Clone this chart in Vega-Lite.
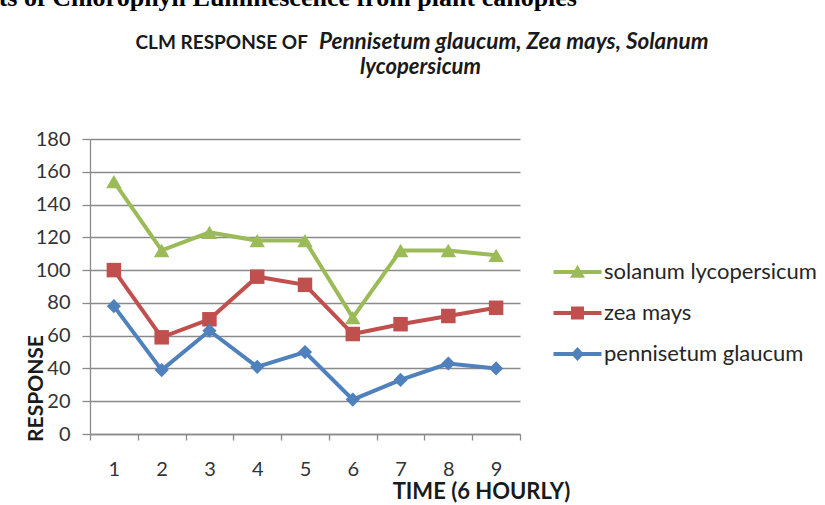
{
  "$schema": "https://vega.github.io/schema/vega-lite/v6.json",
  "width": 430,
  "height": 295,
  "autosize": "none",
  "padding": {"left": 90, "top": 139, "right": 305, "bottom": 71},
  "background": "white",
  "config": {"view": {"stroke": null}, "font": "Lato"},
  "title": {
    "text": "Measurements of Chlorophyll Luminescence from plant canopies",
    "anchor": "end",
    "frame": "group",
    "dx": 57,
    "offset": -1.5,
    "baseline": "alphabetic",
    "font": "Liberation Serif",
    "fontSize": 26,
    "fontWeight": "bold",
    "color": "#000000"
  },
  "data": {
    "values": [
      {"time": 1, "series": "solanum lycopersicum", "value": 154},
      {"time": 2, "series": "solanum lycopersicum", "value": 112},
      {"time": 3, "series": "solanum lycopersicum", "value": 123},
      {"time": 4, "series": "solanum lycopersicum", "value": 118},
      {"time": 5, "series": "solanum lycopersicum", "value": 118},
      {"time": 6, "series": "solanum lycopersicum", "value": 71},
      {"time": 7, "series": "solanum lycopersicum", "value": 112},
      {"time": 8, "series": "solanum lycopersicum", "value": 112},
      {"time": 9, "series": "solanum lycopersicum", "value": 109},
      {"time": 1, "series": "zea mays", "value": 100},
      {"time": 2, "series": "zea mays", "value": 59},
      {"time": 3, "series": "zea mays", "value": 70},
      {"time": 4, "series": "zea mays", "value": 96},
      {"time": 5, "series": "zea mays", "value": 91},
      {"time": 6, "series": "zea mays", "value": 61},
      {"time": 7, "series": "zea mays", "value": 67},
      {"time": 8, "series": "zea mays", "value": 72},
      {"time": 9, "series": "zea mays", "value": 77},
      {"time": 1, "series": "pennisetum glaucum", "value": 78},
      {"time": 2, "series": "pennisetum glaucum", "value": 39},
      {"time": 3, "series": "pennisetum glaucum", "value": 63},
      {"time": 4, "series": "pennisetum glaucum", "value": 41},
      {"time": 5, "series": "pennisetum glaucum", "value": 50},
      {"time": 6, "series": "pennisetum glaucum", "value": 21},
      {"time": 7, "series": "pennisetum glaucum", "value": 33},
      {"time": 8, "series": "pennisetum glaucum", "value": 43},
      {"time": 9, "series": "pennisetum glaucum", "value": 40}
    ]
  },
  "resolve": {"axis": {"x": "independent", "y": "independent"}},
  "layer": [
    {
      "mark": {"type": "line", "strokeWidth": 4},
      "encoding": {
        "x": {
          "field": "time", "type": "ordinal",
          "scale": {"type": "band", "paddingInner": 0, "paddingOuter": 0},
          "axis": {
            "orient": "bottom",
            "title": "TIME (6 HOURLY)",
            "titleFont": "Lato", "titleFontSize": 22, "titleFontWeight": "bold", "titleColor": "#1a1a1a",
            "titleX": 391, "titleY": 64, "titleAlign": "center", "titleBaseline": "alphabetic",
            "labelAngle": 0, "labelFont": "Lato", "labelFontSize": 20, "labelColor": "#333333",
            "labelPadding": 19,
            "tickBand": "extent", "tickSize": 6, "tickColor": "#8a8a8a", "tickWidth": 1.3,
            "domainColor": "#8a8a8a", "domainWidth": 1.3,
            "grid": false
          }
        },
        "y": {
          "field": "value", "type": "quantitative",
          "scale": {"domain": [0, 180], "nice": false, "zero": true},
          "axis": {
            "orient": "left",
            "values": [0, 20, 40, 60, 80, 100, 120, 140, 160, 180],
            "title": "RESPONSE",
            "titleFont": "Lato", "titleFontSize": 21, "titleFontWeight": "bold", "titleColor": "#1a1a1a",
            "titleX": -54, "titleY": 249, "titleAngle": -90, "titleAlign": "center", "titleBaseline": "middle",
            "labelFont": "Lato", "labelFontSize": 20, "labelColor": "#333333", "labelPadding": 12,
            "tickSize": 8, "tickColor": "#8a8a8a", "tickWidth": 1.3,
            "domainColor": "#8a8a8a", "domainWidth": 1.3,
            "grid": true, "gridColor": "#8a8a8a", "gridWidth": 1.3
          }
        },
        "color": {
          "field": "series", "type": "nominal",
          "scale": {
            "domain": ["solanum lycopersicum", "zea mays", "pennisetum glaucum"],
            "range": ["#9BBB59", "#C0504D", "#4F81BD"]
          },
          "legend": {
            "orient": "none",
            "legendX": 270,
            "legendY": -82,
            "title": "lycopersicum",
            "titleFont": "Lato",
            "titleFontSize": 22,
            "titleFontWeight": "bold",
            "titleFontStyle": "italic",
            "titleColor": "#1a1a1a",
            "titleAnchor": "start",
            "titleAlign": "left",
            "titleBaseline": "top",
            "titlePadding": 182,
            "titleLimit": 400,
            "padding": 0,
            "symbolSize": 144,
            "symbolOffset": 206.5,
            "labelOffset": 15.5,
            "labelLimit": 400,
            "labelFont": "Lato",
            "labelFontSize": 22,
            "labelColor": "#262626",
            "rowPadding": 19,
            "encode": {
              "symbols": {
                "update": {
                  "shape": {"signal": "datum.value === 'zea mays' ? 'M-4,-0.33H4V0.33H-4ZM-1.08,-1.08H1.08V1.08H-1.08Z' : datum.value === 'pennisetum glaucum' ? 'M-4,-0.33H4V0.33H-4ZM0,-1.17L1.08,0L0,1.17L-1.08,0Z' : 'M-4,-0.33H4V0.33H-4ZM0,-1.2L1.25,0.95H-1.25Z'"},
                  "fill": {"signal": "scale('color', datum.value)"},
                  "fillOpacity": {"value": 1},
                  "opacity": {"value": 1},
                  "strokeWidth": {"value": 0}
                }
              }
            }
          }
        }
      }
    },
    {
      "transform": [{"filter": "datum.series === 'solanum lycopersicum'"}],
      "mark": {"type": "point", "filled": true, "size": 240, "opacity": 1, "shape": "triangle-up"},
      "encoding": {
        "x": {
          "field": "time", "type": "ordinal",
          "axis": {
            "orient": "top",
            "title": "CLM RESPONSE OF",
            "titleFont": "Lato", "titleFontSize": 19, "titleFontWeight": "bold", "titleColor": "#1a1a1a",
            "titleX": 45, "titleY": -91, "titleAlign": "left", "titleBaseline": "alphabetic",
            "labels": false, "ticks": false, "domain": false, "grid": false
          }
        },
        "y": {
          "field": "value", "type": "quantitative",
          "axis": {
            "orient": "right",
            "title": "Pennisetum glaucum, Zea mays, Solanum",
            "titleFont": "Lato", "titleFontSize": 22.5, "titleFontWeight": "bold", "titleFontStyle": "italic", "titleColor": "#1a1a1a",
            "titleX": 188, "titleY": -91, "titleAngle": 0, "titleAlign": "right", "titleBaseline": "alphabetic",
            "titleLimit": 600,
            "labels": false, "ticks": false, "domain": false, "grid": false
          }
        },
        "color": {"field": "series", "type": "nominal", "legend": null}
      }
    },
    {
      "transform": [{"filter": "datum.series === 'zea mays'"}],
      "mark": {"type": "point", "filled": true, "size": 210, "opacity": 1, "shape": "square"},
      "encoding": {
        "x": {"field": "time", "type": "ordinal", "axis": null},
        "y": {"field": "value", "type": "quantitative", "axis": null},
        "color": {"field": "series", "type": "nominal", "legend": null}
      }
    },
    {
      "transform": [{"filter": "datum.series === 'pennisetum glaucum'"}],
      "mark": {"type": "point", "filled": true, "size": 200, "opacity": 1, "shape": "diamond"},
      "encoding": {
        "x": {"field": "time", "type": "ordinal", "axis": null},
        "y": {"field": "value", "type": "quantitative", "axis": null},
        "color": {"field": "series", "type": "nominal", "legend": null}
      }
    }
  ]
}
